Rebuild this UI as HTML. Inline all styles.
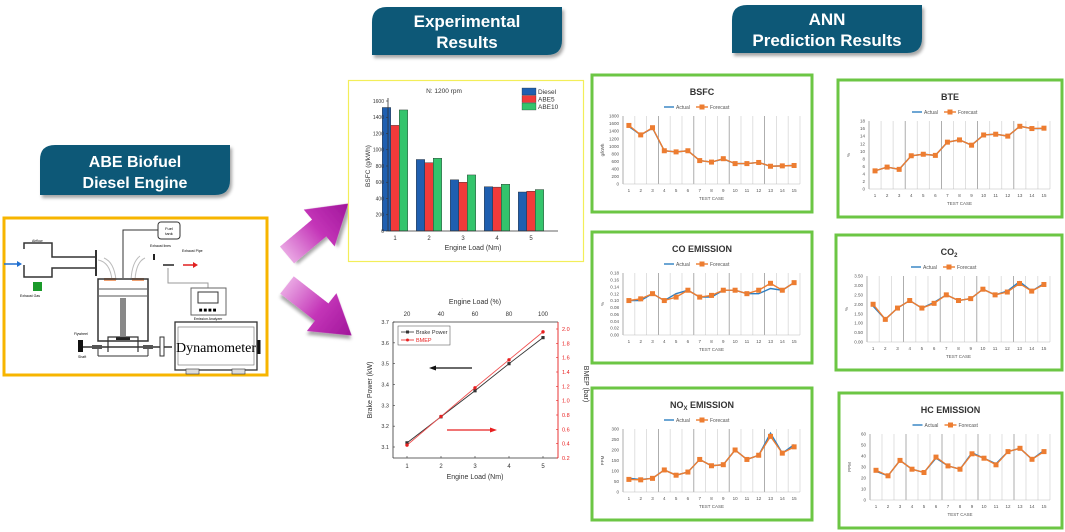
<!DOCTYPE html>
<html><head><meta charset="utf-8">
<style>
html,body{margin:0;padding:0;background:#fff;width:1065px;height:532px;overflow:hidden}
svg{display:block;font-family:"Liberation Sans",Arial,sans-serif}
</style></head>
<body>
<svg id="root" width="1065" height="532" viewBox="0 0 1065 532" xmlns="http://www.w3.org/2000/svg">
<defs>
<linearGradient id="mag" x1="0" y1="0" x2="1" y2="0">
<stop offset="0" stop-color="#e9a6e3"/><stop offset="0.5" stop-color="#c435b8"/><stop offset="1" stop-color="#a0159a"/>
</linearGradient>
<filter id="sh" x="-10%" y="-10%" width="130%" height="140%"><feDropShadow dx="2" dy="3" stdDeviation="1.5" flood-color="#000" flood-opacity="0.35"/></filter>
</defs>

<!-- badges -->
<g filter="url(#sh)">
<path d="M372,22 Q372,7 387,7 L562,7 L562,40 Q562,55 547,55 L372,55 Z" fill="#0b5877"/>
<text x="467" y="27" text-anchor="middle" fill="#fff" font-size="17" font-weight="bold">Experimental</text>
<text x="467" y="48" text-anchor="middle" fill="#fff" font-size="17" font-weight="bold">Results</text>
</g>
<g filter="url(#sh)">
<path d="M732,20 Q732,5 747,5 L922,5 L922,38 Q922,53 907,53 L732,53 Z" fill="#0b5877"/>
<text x="827" y="25" text-anchor="middle" fill="#fff" font-size="17" font-weight="bold">ANN</text>
<text x="827" y="46" text-anchor="middle" fill="#fff" font-size="17" font-weight="bold">Prediction Results</text>
</g>
<g filter="url(#sh)">
<path d="M40,160 Q40,145 55,145 L230,145 L230,180 Q230,195 215,195 L40,195 Z" fill="#0b5877"/>
<text x="135" y="167" text-anchor="middle" fill="#fff" font-size="16" font-weight="bold">ABE Biofuel</text>
<text x="135" y="188" text-anchor="middle" fill="#fff" font-size="16" font-weight="bold">Diesel Engine</text>
</g>

<!-- engine diagram -->
<g>
<rect x="4" y="218" width="263" height="157" fill="#fff" stroke="#f7b500" stroke-width="3"/>
<rect x="158" y="222" width="22" height="17" rx="3" fill="#fff" stroke="#333"/>
<text x="169" y="230" font-size="4" text-anchor="middle">Fuel</text><text x="169" y="235" font-size="4" text-anchor="middle">tank</text>
<polyline points="158,230 123,230 123,278" fill="none" stroke="#333"/>
<path d="M24,249 L24,243 L52,243 L52,257 L96,257" fill="none" stroke="#333" stroke-width="1.5"/>
<path d="M24,265 L24,277 L52,277 L52,268 L96,268" fill="none" stroke="#333" stroke-width="1.5"/>
<line x1="96" y1="250" x2="96" y2="276" stroke="#333" stroke-width="2"/>
<text x="32" y="242" font-size="3.5">Airflow</text>
<line x1="4" y1="264" x2="20" y2="264" stroke="#1f6fd0" stroke-width="1.5"/><polygon points="22,264 17,261 17,267" fill="#1f6fd0"/>
<rect x="33" y="282" width="9" height="9" fill="#1a9a2a"/>
<text x="20" y="297" font-size="3.5">Exhaust Gas</text>
<path d="M98,260 Q110,262 112,280 M104,258 Q114,262 116,280" fill="none" stroke="#bbb" stroke-width="1"/>
<path d="M145,258 Q136,262 135,280 M140,256 Q132,262 131,280" fill="none" stroke="#bbb" stroke-width="1"/>
<rect x="104" y="278" width="12" height="3" fill="#f0a070"/><rect x="132" y="278" width="12" height="3" fill="#f0a070"/>
<rect x="98" y="279" width="50" height="62" fill="none" stroke="#333" stroke-width="1.5"/>
<line x1="99" y1="289" x2="147" y2="289" stroke="#555"/><line x1="99" y1="296" x2="147" y2="296" stroke="#555"/>
<rect x="120" y="298" width="6" height="38" fill="#888"/>
<rect x="116" y="337" width="14" height="3" fill="#222"/>
<path d="M108,352 L108,337 L138,337 L138,352" fill="none" stroke="#333" stroke-width="1.2"/>
<line x1="98" y1="349" x2="98" y2="356" stroke="#333"/><line x1="148" y1="349" x2="148" y2="356" stroke="#333"/>
<line x1="80" y1="347" x2="172" y2="347" stroke="#333" stroke-width="1.5"/>
<rect x="78" y="340" width="5" height="12" fill="#111"/>
<rect x="92" y="345" width="10" height="4" fill="#555"/><rect x="143" y="345" width="10" height="4" fill="#555"/>
<line x1="98" y1="356" x2="148" y2="356" stroke="#333"/>
<text x="74" y="335" font-size="3.5">Flywheel</text>
<text x="78" y="358" font-size="3.5">Shaft</text>
<rect x="160" y="337" width="4" height="19" fill="#fff" stroke="#333"/>
<text x="150" y="247" font-size="3.5">Exhaust lines</text>
<rect x="153" y="254" width="2" height="6" fill="#222"/>
<line x1="163" y1="265" x2="174" y2="265" stroke="#222" stroke-width="1.5"/>
<line x1="183" y1="265" x2="195" y2="265" stroke="#e02020" stroke-width="1.5"/><polygon points="198,265 193,262 193,268" fill="#e02020"/>
<text x="182" y="252" font-size="3.5">Exhaust Pipe</text>
<polyline points="168,268 168,283 208,283 208,288" fill="none" stroke="#999"/>
<rect x="191" y="288" width="35" height="27" fill="#fff" stroke="#666"/>
<rect x="198" y="292" width="20" height="11" fill="none" stroke="#333"/>
<text x="208" y="312" font-size="6" text-anchor="middle" letter-spacing="1">■■■■</text>
<text x="208" y="320" font-size="3.5" text-anchor="middle">Emission Analyzer</text>
<rect x="175" y="322" width="82" height="48" fill="#fff" stroke="#333" stroke-width="1.3"/>
<rect x="178" y="327" width="76" height="38" fill="none" stroke="#666" stroke-width="0.6"/>
<text x="216" y="352" font-size="14" text-anchor="middle" font-family="Liberation Serif,serif">Dynamometer</text>
<rect x="186" y="369" width="13" height="5" fill="#ddd" stroke="#333" stroke-width="0.6"/><rect x="232" y="369" width="13" height="5" fill="#ddd" stroke="#333" stroke-width="0.6"/>
<line x1="259" y1="340" x2="259" y2="354" stroke="#111" stroke-width="3"/>
</g>

<!-- magenta arrows -->
<g transform="translate(287,255) rotate(-40)">
<polygon points="0,-11 42,-11 42,-24 80,0 42,24 42,11 0,11" fill="url(#mag)" filter="url(#sh)"/>
</g>
<g transform="translate(287,285) rotate(38)">
<polygon points="0,-11 44,-11 44,-24 82,0 44,24 44,11 0,11" fill="url(#mag)" filter="url(#sh)"/>
</g>

<g id="bar-chart"></g>
<g id="ann"></g>
<g id="line-chart"></g>
</svg>

<script>
const NS='http://www.w3.org/2000/svg';
function mk(tag,attrs,parent){const e=document.createElementNS(NS,tag);for(const k in attrs)e.setAttribute(k,attrs[k]);parent.appendChild(e);return e;}
function txt(s,attrs,parent){const e=mk('text',attrs,parent);e.textContent=s;return e;}

/* ---------- Bar chart data ---------- */
const barCategories=['1','2','3','4','5'];
const barSeriesNames=['Diesel','ABE5','ABE10'];
const dieselBSFC=[1520,880,630,545,480];
const abe5BSFC=[1300,840,600,540,490];
const abe10BSFC=[1490,895,690,575,510];
const barYTicks=[0,200,400,600,800,1000,1200,1400,1600];

/* ---------- Line chart data ---------- */
const loadNm=[1,2,3,4,5];
const loadPct=['20','40','60','80','100'];
const brakePower=[3.12,3.245,3.37,3.5,3.625];
const bmep=[0.38,0.78,1.18,1.57,1.96];
const bpTicks=[3.1,3.2,3.3,3.4,3.5,3.6,3.7];
const bmepTicks=[0.2,0.4,0.6,0.8,1.0,1.2,1.4,1.6,1.8,2.0];

/* ---------- ANN data ---------- */
const testCases=['1','2','3','4','5','6','7','8','9','10','11','12','13','14','15'];
const bsfcActual=[1520,1300,1480,880,850,880,620,580,660,540,540,570,470,480,490];
const bsfcForecast=[1550,1300,1490,880,850,880,620,580,670,540,540,570,470,480,490];
const bsfcTicks=[0,200,400,600,800,1000,1200,1400,1600,1800];
const bteActual=[4.8,5.8,5.2,8.8,9.2,8.9,12.4,13.0,11.6,14.3,14.5,14.0,16.6,16.0,16.0];
const bteForecast=[4.8,5.8,5.2,8.8,9.2,8.9,12.4,13.0,11.6,14.3,14.5,14.0,16.6,16.0,16.1];
const bteTicks=[0,2,4,6,8,10,12,14,16,18];
const coActual=[0.10,0.10,0.12,0.10,0.12,0.13,0.11,0.11,0.13,0.13,0.12,0.12,0.135,0.13,0.152];
const coForecast=[0.10,0.105,0.12,0.10,0.11,0.13,0.11,0.115,0.13,0.13,0.12,0.13,0.15,0.13,0.152];
const coTicks=[0,0.02,0.04,0.06,0.08,0.10,0.12,0.14,0.16,0.18];
const co2Actual=[1.9,1.2,1.8,2.2,1.8,2.1,2.5,2.2,2.3,2.8,2.5,2.7,3.2,2.7,3.1];
const co2Forecast=[2.0,1.2,1.8,2.2,1.8,2.05,2.5,2.2,2.3,2.8,2.5,2.65,3.1,2.7,3.05];
const co2Ticks=[0,0.5,1.0,1.5,2.0,2.5,3.0,3.5];
const noxActual=[65,60,65,105,80,95,155,125,130,200,155,175,280,185,225];
const noxForecast=[60,58,65,105,80,95,155,125,130,200,155,175,265,185,215];
const noxTicks=[0,50,100,150,200,250,300];
const hcActual=[26,22,36,28,25,38,31,28,43,38,33,44,47,37,45];
const hcForecast=[27,22,36,28,25,39,31,28,42,38,32,44,47,37,44];
const hcTicks=[0,10,20,30,40,50,60];

/* ---------- Bar chart ---------- */
(function(){
  const g=document.getElementById('bar-chart');
  const box=mk('rect',{x:348.5,y:80.5,width:235,height:181,fill:'#fff',stroke:'#f3ee5a','stroke-width':1.2},g);
  
  
  const L=388,R=558,T=101,B=231,yMax=1600;
  const sy=v=>B-v/yMax*(B-T);
  const gw=(R-L)/barCategories.length;
  const sx=i=>L+gw*(i+0.5)-10;
  const series=[dieselBSFC,abe5BSFC,abe10BSFC];
  const colors=['#1f5fb0','#f03a3a','#34c46c'];
  const bw=8.5;
  series.forEach((arr,s)=>arr.forEach((v,i)=>{
    const r=mk('rect',{x:sx(i)+(s-1.5)*bw,y:sy(v),width:bw,height:B-sy(v),fill:colors[s],stroke:'#222','stroke-width':0.4},g);
    
    
  }));
  mk('line',{x1:L,y1:T-3,x2:L,y2:B,stroke:'#333','stroke-width':0.8},g);
  mk('line',{x1:L,y1:B,x2:R,y2:B,stroke:'#333','stroke-width':0.8},g);
  barYTicks.forEach(t=>{
    mk('line',{x1:L-2,y1:sy(t),x2:L,y2:sy(t),stroke:'#333','stroke-width':0.6},g);
    const e=txt(String(t),{x:L-4,y:sy(t)+1.8,'font-size':5,'text-anchor':'end',fill:'#333'},g);
    
    
  });
  barCategories.forEach((c,i)=>{
    const e=txt(c,{x:sx(i),y:B+9,'font-size':6,'text-anchor':'middle',fill:'#333'},g);
    
    
  });
  const t=txt('N: 1200 rpm',{x:444,y:93,'font-size':6.5,'text-anchor':'middle',fill:'#333'},g);
  
  
  const yl=txt('BSFC (g/kWh)',{x:0,y:0,'font-size':6.5,'text-anchor':'middle',fill:'#333',transform:'translate(370,166) rotate(-90)'},g);
  
  
  const xl=txt('Engine Load (Nm)',{x:473,y:250,'font-size':7,'text-anchor':'middle',fill:'#333'},g);
  
  
  barSeriesNames.forEach((n,s)=>{
    const y=88+s*7.5;
    const sw=mk('rect',{x:522,y:y,width:14,height:7,fill:colors[s],stroke:'#222','stroke-width':0.3},g);
    
    
    const e=txt(n,{x:538,y:y+6,'font-size':6.5,fill:'#333'},g);
    
    
  });
})();

/* ---------- Line chart ---------- */
(function(){
  const g=document.getElementById('line-chart');
  const L=393,R=558,T=322,B=458;
  const sx=v=>407+(v-1)*(543-407)/4;
  const syL=v=>447-(v-3.1)/(3.7-3.1)*(447-322);
  const syR=v=>458-(v-0.2)/(2.0-0.2)*(458-329);
  mk('line',{x1:L,y1:T,x2:L,y2:B,stroke:'#333','stroke-width':0.8},g);
  mk('line',{x1:L,y1:B,x2:R,y2:B,stroke:'#333','stroke-width':0.8},g);
  mk('line',{x1:L,y1:T,x2:R,y2:T,stroke:'#333','stroke-width':0.8},g);
  mk('line',{x1:R,y1:T,x2:R,y2:B,stroke:'#e82020','stroke-width':0.9},g);
  bpTicks.forEach(t=>{
    mk('line',{x1:L,y1:syL(t),x2:L+2,y2:syL(t),stroke:'#333','stroke-width':0.6},g);
    const e=txt(t.toFixed(1),{x:L-4,y:syL(t)+2,'font-size':5.5,'text-anchor':'end',fill:'#333'},g);
    
    
  });
  bmepTicks.forEach(t=>{
    mk('line',{x1:R-2,y1:syR(t),x2:R,y2:syR(t),stroke:'#e82020','stroke-width':0.6},g);
    const e=txt(t.toFixed(1),{x:R+4,y:syR(t)+2,'font-size':5.5,fill:'#e82020'},g);
    
    
  });
  loadNm.forEach((v,i)=>{
    mk('line',{x1:sx(v),y1:B,x2:sx(v),y2:B-2,stroke:'#333','stroke-width':0.6},g);
    const e=txt(String(v),{x:sx(v),y:B+10,'font-size':6,'text-anchor':'middle',fill:'#333'},g);
    
    
    const p=txt(loadPct[i],{x:sx(v),y:T-6,'font-size':6,'text-anchor':'middle',fill:'#333'},g);
    
    
  });
  const bpPts=brakePower.map((v,i)=>sx(loadNm[i])+','+syL(v)).join(' ');
  const bl=mk('polyline',{points:bpPts,fill:'none',stroke:'#333','stroke-width':0.9},g);
  
  
  const rmPts=bmep.map((v,i)=>sx(loadNm[i])+','+syR(v)).join(' ');
  const rl=mk('polyline',{points:rmPts,fill:'none',stroke:'#f05050','stroke-width':0.9},g);
  
  
  brakePower.forEach((v,i)=>{
    const m=mk('rect',{x:sx(loadNm[i])-1.6,y:syL(v)-1.6,width:3.2,height:3.2,fill:'#333'},g);
    
    
  });
  bmep.forEach((v,i)=>{
    const m=mk('circle',{cx:sx(loadNm[i]),cy:syR(v),r:1.7,fill:'#e82020'},g);
    
    
  });
  const lg=mk('rect',{x:398,y:326,width:52,height:19,fill:'#fff',stroke:'#444','stroke-width':0.5},g);
  
  
  mk('line',{x1:401,y1:332,x2:414,y2:332,stroke:'#333','stroke-width':0.8},g);
  mk('rect',{x:406,y:330.5,width:3,height:3,fill:'#333'},g);
  txt('Brake Power',{x:416,y:334,'font-size':5.5,fill:'#333'},g);
  mk('line',{x1:401,y1:340,x2:414,y2:340,stroke:'#e82020','stroke-width':0.8},g);
  mk('circle',{cx:407.5,cy:340,r:1.5,fill:'#e82020'},g);
  txt('BMEP',{x:416,y:342,'font-size':5.5,fill:'#e82020'},g);
  mk('line',{x1:472,y1:368,x2:434,y2:368,stroke:'#111','stroke-width':1.2},g);
  mk('polygon',{points:'429,368 436,365.5 436,370.5',fill:'#111'},g);
  mk('line',{x1:447,y1:430,x2:490,y2:430,stroke:'#e82020','stroke-width':1.2},g);
  mk('polygon',{points:'497,430 490,427.5 490,432.5',fill:'#e82020'},g);
  const a=txt('Engine Load (%)',{x:475,y:304,'font-size':7,'text-anchor':'middle',fill:'#333'},g);
  
  
  const b=txt('Engine Load (Nm)',{x:475,y:479,'font-size':7,'text-anchor':'middle',fill:'#333'},g);
  
  
  const c=txt('Brake Power (kW)',{x:0,y:0,'font-size':7,'text-anchor':'middle',fill:'#333',transform:'translate(372,390) rotate(-90)'},g);
  
  
  const d=txt('BMEP (bar)',{x:0,y:0,'font-size':7,'text-anchor':'middle',fill:'#333',transform:'translate(584,384) rotate(90)'},g);
  
  
})();

/* ---------- ANN panels ---------- */
function annPanel(key,title,sub,box,actual,forecast,ticks,yLabel,dec){
  const root=document.getElementById('ann');
  const g=mk('g',{},root);
  
  
  const [x,y,w,h]=box;
  mk('rect',{x:x,y:y,width:w,height:h,fill:'#fff',stroke:'#6cc644','stroke-width':3},g);
  const t=txt(title,{x:x+w/2,y:y+20,'font-size':9,'font-weight':'bold','text-anchor':'middle',fill:'#333'},g);
  if(sub){const ts=document.createElementNS(NS,'tspan');ts.setAttribute('font-size',6);ts.setAttribute('dy',2);ts.textContent=sub[0];t.appendChild(ts);
    if(sub[1]){const t2=document.createElementNS(NS,'tspan');t2.setAttribute('dy',-2);t2.setAttribute('font-size',9);t2.textContent=sub[1];t.appendChild(t2);}}
  
  
  const lx=x+w/2-28, ly=y+32;
  mk('line',{x1:lx-10,y1:ly,x2:lx,y2:ly,stroke:'#2e7fc2','stroke-width':1.4},g);
  const la=txt('Actual',{x:lx+2,y:ly+2,'font-size':5,fill:'#555'},g);
  
  
  mk('line',{x1:lx+22,y1:ly,x2:lx+34,y2:ly,stroke:'#ed7d31','stroke-width':1.4},g);
  mk('rect',{x:lx+25.5,y:ly-2.5,width:5,height:5,fill:'#ed7d31'},g);
  const lf=txt('Forecast',{x:lx+36,y:ly+2,'font-size':5,fill:'#555'},g);
  
  
  const L=x+31,R=x+w-12,T=y+41,B=y+h-28;
  const yMax=ticks[ticks.length-1];
  const cw=(R-L)/testCases.length;
  const sx=i=>L+cw*(i+0.5);
  const sy=v=>B-v/yMax*(B-T);
  testCases.forEach((c,i)=>{
    mk('line',{x1:L+cw*i,y1:T,x2:L+cw*i,y2:B,stroke:i%3===0?'#9a9a9a':'#d8d8d8','stroke-width':0.8},g);
    const e=txt(c,{x:sx(i),y:B+8,'font-size':4.5,'text-anchor':'middle',fill:'#555'},g);
    
    
  });
  mk('line',{x1:R,y1:T,x2:R,y2:B,stroke:'#d8d8d8','stroke-width':0.8},g);
  mk('line',{x1:L,y1:B,x2:R,y2:B,stroke:'#bbb','stroke-width':0.6},g);
  ticks.forEach(tv=>{
    const e=txt(tv.toFixed(dec),{x:L-4,y:sy(tv)+1.6,'font-size':4.5,'text-anchor':'end',fill:'#555'},g);
    
    
  });
  const xl=txt('TEST CASE',{x:(L+R)/2,y:B+16,'font-size':4.5,'text-anchor':'middle',fill:'#555'},g);
  
  
  const yl=txt(yLabel,{x:0,y:0,'font-size':4.5,'text-anchor':'middle',fill:'#555',transform:'translate('+(x+12)+','+((T+B)/2)+') rotate(-90)'},g);
  
  
  const ap=mk('polyline',{points:actual.map((v,i)=>sx(i)+','+sy(v)).join(' '),fill:'none',stroke:'#2e7fc2','stroke-width':1.4},g);
  
  
  const fp=mk('polyline',{points:forecast.map((v,i)=>sx(i)+','+sy(v)).join(' '),fill:'none',stroke:'#ed7d31','stroke-width':1.4},g);
  
  
  forecast.forEach((v,i)=>{
    const m=mk('rect',{x:sx(i)-2.5,y:sy(v)-2.5,width:5,height:5,fill:'#ed7d31'},g);
    
    
  });
}
annPanel('bsfc','BSFC',null,[592,75,220,137],bsfcActual,bsfcForecast,bsfcTicks,'g/kWh',0);
annPanel('bte','BTE',null,[838,80,224,137],bteActual,bteForecast,bteTicks,'%',0);
annPanel('co','CO  EMISSION',null,[592,232,220,131],coActual,coForecast,coTicks,'%',2);
annPanel('co2','CO',['2'],[836,235,226,135],co2Actual,co2Forecast,co2Ticks,'%',2);
annPanel('nox','NO',['X',' EMISSION'],[592,388,220,132],noxActual,noxForecast,noxTicks,'PPM',0);
annPanel('hc','HC  EMISSION',null,[839,393,223,135],hcActual,hcForecast,hcTicks,'PPM',0);
</script>
</body></html>
